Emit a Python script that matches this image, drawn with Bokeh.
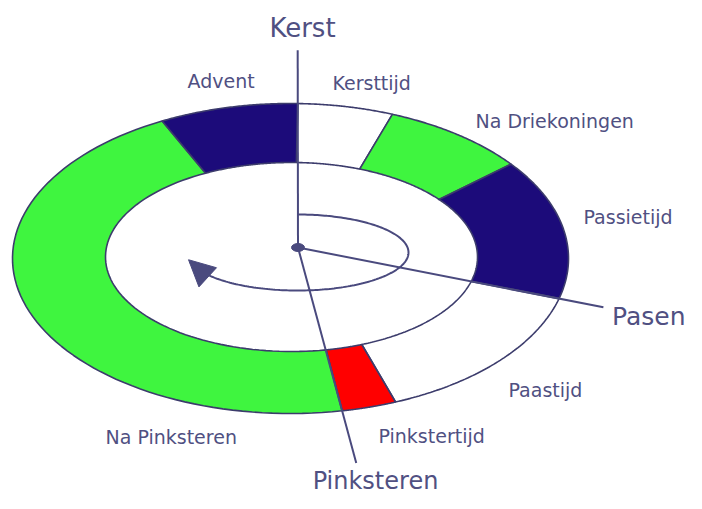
import numpy as np
from bokeh.plotting import figure
from bokeh.models import Range1d, Arrow, NormalHead, ColumnDataSource
from bokeh.core.properties import value
from bokeh.embed import file_html
from bokeh.resources import INLINE

# ---- data: liturgical year seasons, clockwise from Kerst ----
seasons = ["Kersttijd", "Na Driekoningen", "Passietijd", "Paastijd",
           "Pinkstertijd", "Na Pinksteren", "Advent"]
span_deg = [20.0, 31.0, 52.5, 52.8, 11.5, 163.2, 29.0]
season_colors = ["#ffffff", "#3ff53f", "#1c0b7a", "#ffffff",
                 "#ff0000", "#3ff53f", "#1c0b7a"]
start_deg = 88.5

feasts = ["Kerst", "Pasen", "Pinksteren"]
feast_boundary = [0, 3, 5]          # boundary index (cumulative season count)
feast_extend = [1.37, 1.17, 1.32]   # pointer length relative to ring edge

# season label placement (left x, vertical middle y)
season_lx = [332, 475, 583, 508, 378, 105, 187]
season_ly = [82, 120, 216, 389, 435, 436, 80]
# feast label placement
feast_lx = [302, 685, 375]
feast_ly = [27, 316, 480]
feast_align = ["center", "right", "center"]
feast_size = ["26px", "25px", "24px"]

# ---- geometry (layout) ----
OUT_C, OUT_A, OUT_B = (290.0, 258.0), 278.0, 155.0
IN_C, IN_A, IN_B = (291.0, 256.5), 186.0, 94.5
HUB = (297.5, 247.0)
LOOP_C, LOOP_A, LOOP_B = (297.0, 252.0), 111.0, 38.0
INK = "#4a4a7e"
TXT = "#505082"
EDGE = "#3c3c6c"


def ell(c, a, b, t_deg):
    t = np.radians(t_deg)
    return c[0] + a * np.cos(t), c[1] - b * np.sin(t)


bounds = start_deg - np.concatenate([[0.0], np.cumsum(span_deg)])

xs, ys = [], []
for i in range(len(seasons)):
    t = np.linspace(bounds[i], bounds[i + 1], 80)
    ox, oy = ell(OUT_C, OUT_A, OUT_B, t)
    ix, iy = ell(IN_C, IN_A, IN_B, t[::-1])
    xs.append(list(np.concatenate([ox, ix])))
    ys.append(list(np.concatenate([oy, iy])))

p = figure(width=686, height=493, output_backend="svg", toolbar_location=None,
           x_range=Range1d(0, 686), y_range=Range1d(493, 0),
           x_axis_location=None, y_axis_location=None, min_border=0,
           outline_line_color=None, background_fill_color="white",
           border_fill_color="white")
p.grid.visible = False

p.patches(xs, ys, fill_color=season_colors, line_color=EDGE, line_width=1.6)

# inner loop with arrow
tl = np.linspace(90, -166, 200)
lx, ly = ell(LOOP_C, LOOP_A, LOOP_B, tl)
p.line(lx, ly, line_color=INK, line_width=2)
sx, sy = ell(LOOP_C, LOOP_A, LOOP_B, -150)
ex, ey = ell(LOOP_C, LOOP_A, LOOP_B, -169)
p.add_layout(Arrow(end=NormalHead(size=26, fill_color=INK, line_color=INK),
                   x_start=sx, y_start=sy, x_end=ex, y_end=ey,
                   line_alpha=0))

# feast pointer lines
for b, k in zip(feast_boundary, feast_extend):
    bx, by = ell(OUT_C, OUT_A, OUT_B, bounds[b])
    endx = HUB[0] + (bx - HUB[0]) * k
    endy = HUB[1] + (by - HUB[1]) * k
    p.line([HUB[0], endx], [HUB[1], endy], line_color=INK, line_width=2)

p.ellipse(x=[HUB[0]], y=[HUB[1]], width=13, height=8, fill_color=INK,
          line_color=INK)

# labels
p.text(x=season_lx, y=season_ly, text=seasons, text_color=TXT,
       text_font=value("DejaVu Sans"), text_font_size="19px",
       text_align="left", text_baseline="middle")
fsrc = ColumnDataSource(dict(x=feast_lx, y=feast_ly, t=feasts, a=feast_align,
                             s=feast_size))
p.text(x="x", y="y", text="t", text_align="a", text_font_size="s",
       source=fsrc, text_color=TXT, text_font=value("DejaVu Sans"),
       text_baseline="middle")

open("out.html", "w").write(file_html(p, INLINE))
